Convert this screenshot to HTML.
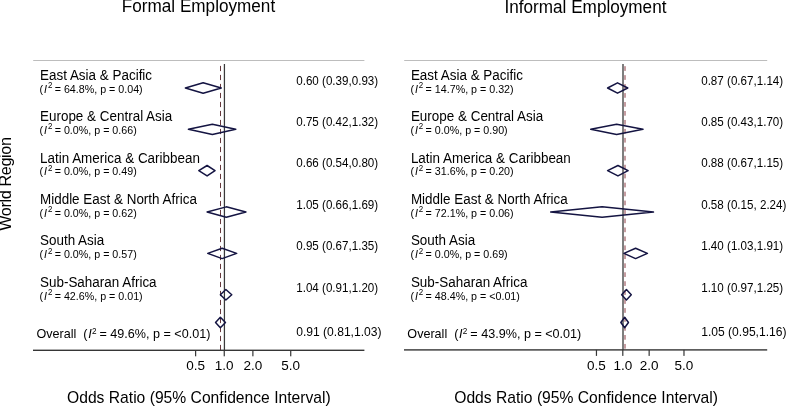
<!DOCTYPE html>
<html><head><meta charset="utf-8"><style>
html,body{margin:0;padding:0;background:#fff;width:786px;height:406px;overflow:hidden}
svg{display:block;will-change:transform}
text{font-family:"Liberation Sans",sans-serif;fill:#000}
</style></head><body>
<svg width="786" height="406" viewBox="0 0 786 406">
<rect width="786" height="406" fill="#fff"/>
<text x="121.8" y="12.2" font-size="17.15" transform="translate(0 12.2) scale(1 1.045) translate(0 -12.2)">Formal Employment</text>
<text x="504.5" y="12.5" font-size="17.15" transform="translate(0 12.5) scale(1 1.045) translate(0 -12.5)">Informal Employment</text>
<text transform="translate(11.2 230.85) rotate(-90) scale(1 1.045)" x="0" y="0" font-size="16.3" textLength="93.9" lengthAdjust="spacing">World Region</text>
<rect x="33.2" y="60" width="331.2" height="1" fill="#bdbdbd"/>
<rect x="223.80" y="64" width="1.25" height="286.30" fill="#3a3a3a"/>
<line x1="220.50" y1="65.9" x2="220.50" y2="350.30" stroke="#66393d" stroke-width="1" stroke-dasharray="5.2 3.8"/>
<rect x="33.0" y="349.60" width="331.4" height="1.4" fill="#363636"/>
<rect x="195.02" y="350.30" width="1.2" height="6" fill="#363636"/>
<text x="195.62" y="370" font-size="13.5" text-anchor="middle">0.5</text>
<rect x="223.65" y="350.30" width="1.2" height="6" fill="#363636"/>
<text x="224.25" y="370" font-size="13.5" text-anchor="middle">1.0</text>
<rect x="252.28" y="350.30" width="1.2" height="6" fill="#363636"/>
<text x="252.88" y="370" font-size="13.5" text-anchor="middle">2.0</text>
<rect x="290.13" y="350.30" width="1.2" height="6" fill="#363636"/>
<text x="290.73" y="370" font-size="13.5" text-anchor="middle">5.0</text>
<text x="40.0" y="80" font-size="13.45" transform="translate(0 80) scale(1 1.045) translate(0 -80)">East Asia &amp; Pacific</text>
<text y="93.00" font-size="10.7" transform="translate(0 93) scale(1 1.045) translate(0 -93)"><tspan x="39.60">(</tspan><tspan x="44.00" font-style="italic">I</tspan><tspan x="47.90" y="88" font-size="7.95">2</tspan><tspan x="54.70" y="93.00">= 64.8%, p = 0.04)</tspan></text>
<text x="296.2" y="85" font-size="11.62" transform="translate(0 85) scale(1 1.045) translate(0 -85)">0.60 (0.39,0.93)</text>
<path d="M185.36 88.00L203.15 82.80L221.25 88.00L203.15 93.20Z" fill="none" stroke="#141442" stroke-width="1.5" stroke-linejoin="round"/>
<text x="40.0" y="121" font-size="13.45" transform="translate(0 121) scale(1 1.045) translate(0 -121)">Europe &amp; Central Asia</text>
<text y="134.00" font-size="10.7" transform="translate(0 134) scale(1 1.045) translate(0 -134)"><tspan x="39.60">(</tspan><tspan x="44.00" font-style="italic">I</tspan><tspan x="47.90" y="129" font-size="7.95">2</tspan><tspan x="54.70" y="134.00">= 0.0%, p = 0.66)</tspan></text>
<text x="296.2" y="126" font-size="11.62" transform="translate(0 126) scale(1 1.045) translate(0 -126)">0.75 (0.42,1.32)</text>
<path d="M188.42 129.35L212.37 124.15L235.72 129.35L212.37 134.55Z" fill="none" stroke="#141442" stroke-width="1.5" stroke-linejoin="round"/>
<text x="40.0" y="163" font-size="13.45" transform="translate(0 163) scale(1 1.045) translate(0 -163)">Latin America &amp; Caribbean</text>
<text y="175.00" font-size="10.7" transform="translate(0 175) scale(1 1.045) translate(0 -175)"><tspan x="39.60">(</tspan><tspan x="44.00" font-style="italic">I</tspan><tspan x="47.90" y="171" font-size="7.95">2</tspan><tspan x="54.70" y="175.00">= 0.0%, p = 0.49)</tspan></text>
<text x="296.2" y="167" font-size="11.62" transform="translate(0 167) scale(1 1.045) translate(0 -167)">0.66 (0.54,0.80)</text>
<path d="M198.80 170.70L207.09 165.50L215.03 170.70L207.09 175.90Z" fill="none" stroke="#141442" stroke-width="1.5" stroke-linejoin="round"/>
<text x="40.0" y="204" font-size="13.45" transform="translate(0 204) scale(1 1.045) translate(0 -204)">Middle East &amp; North Africa</text>
<text y="217.00" font-size="10.7" transform="translate(0 217) scale(1 1.045) translate(0 -217)"><tspan x="39.60">(</tspan><tspan x="44.00" font-style="italic">I</tspan><tspan x="47.90" y="212" font-size="7.95">2</tspan><tspan x="54.70" y="217.00">= 0.0%, p = 0.62)</tspan></text>
<text x="296.2" y="209" font-size="11.62" transform="translate(0 209) scale(1 1.045) translate(0 -209)">1.05 (0.66,1.69)</text>
<path d="M207.09 212.05L226.27 206.85L245.92 212.05L226.27 217.25Z" fill="none" stroke="#141442" stroke-width="1.5" stroke-linejoin="round"/>
<text x="40.0" y="245" font-size="13.45" transform="translate(0 245) scale(1 1.045) translate(0 -245)">South Asia</text>
<text y="258.00" font-size="10.7" transform="translate(0 258) scale(1 1.045) translate(0 -258)"><tspan x="39.60">(</tspan><tspan x="44.00" font-style="italic">I</tspan><tspan x="47.90" y="254" font-size="7.95">2</tspan><tspan x="54.70" y="258.00">= 0.0%, p = 0.57)</tspan></text>
<text x="296.2" y="250" font-size="11.62" transform="translate(0 250) scale(1 1.045) translate(0 -250)">0.95 (0.67,1.35)</text>
<path d="M207.71 253.40L222.13 248.20L236.65 253.40L222.13 258.60Z" fill="none" stroke="#141442" stroke-width="1.5" stroke-linejoin="round"/>
<text x="40.0" y="287" font-size="13.45" transform="translate(0 287) scale(1 1.045) translate(0 -287)">Sub-Saharan Africa</text>
<text y="300.00" font-size="10.7" transform="translate(0 300) scale(1 1.045) translate(0 -300)"><tspan x="39.60">(</tspan><tspan x="44.00" font-style="italic">I</tspan><tspan x="47.90" y="295" font-size="7.95">2</tspan><tspan x="54.70" y="300.00">= 42.6%, p = 0.01)</tspan></text>
<text x="296.2" y="292" font-size="11.62" transform="translate(0 292) scale(1 1.045) translate(0 -292)">1.04 (0.91,1.20)</text>
<path d="M220.35 294.75L225.87 289.55L231.78 294.75L225.87 299.95Z" fill="none" stroke="#141442" stroke-width="1.5" stroke-linejoin="round"/>
<text y="337.7" font-size="12.6" transform="translate(0 337.7) scale(1 1.045) translate(0 -337.7)"><tspan x="36.45">Overall</tspan><tspan x="83.35">(</tspan><tspan x="88.15" font-style="italic">I</tspan><tspan x="91.95" y="333.70" font-size="8.2">2</tspan><tspan x="99.45" y="337.7">= 49.6%, p = &lt;0.01)</tspan></text>
<text x="296.2" y="335.8" font-size="12.1" transform="translate(0 335.8) scale(1 1.045) translate(0 -335.8)">0.91 (0.81,1.03)</text>
<path d="M215.55 322.50L220.35 317.30L225.47 322.50L220.35 327.70Z" fill="none" stroke="#141442" stroke-width="1.5" stroke-linejoin="round"/>
<rect x="404.2" y="60" width="363.00000000000006" height="1" fill="#bdbdbd"/>
<rect x="622.35" y="64" width="1.3" height="285.90" fill="#3a3a3a"/>
<line x1="625.00" y1="66.2" x2="625.00" y2="349.90" stroke="#8c3d44" stroke-width="1" stroke-dasharray="4.7 4.26"/>
<rect x="404.0" y="349.20" width="363.20000000000005" height="1.4" fill="#363636"/>
<rect x="595.85" y="349.90" width="1.2" height="6" fill="#363636"/>
<text x="596.45" y="370" font-size="13.5" text-anchor="middle">0.5</text>
<rect x="622.20" y="349.90" width="1.2" height="6" fill="#363636"/>
<text x="622.80" y="370" font-size="13.5" text-anchor="middle">1.0</text>
<rect x="648.55" y="349.90" width="1.2" height="6" fill="#363636"/>
<text x="649.15" y="370" font-size="13.5" text-anchor="middle">2.0</text>
<rect x="683.38" y="349.90" width="1.2" height="6" fill="#363636"/>
<text x="683.98" y="370" font-size="13.5" text-anchor="middle">5.0</text>
<text x="410.9" y="80" font-size="13.45" transform="translate(0 80) scale(1 1.045) translate(0 -80)">East Asia &amp; Pacific</text>
<text y="93.00" font-size="10.7" transform="translate(0 93) scale(1 1.045) translate(0 -93)"><tspan x="410.50">(</tspan><tspan x="414.90" font-style="italic">I</tspan><tspan x="418.80" y="88" font-size="7.95">2</tspan><tspan x="425.60" y="93.00">= 14.7%, p = 0.32)</tspan></text>
<text x="701.2" y="85" font-size="11.62" transform="translate(0 85) scale(1 1.045) translate(0 -85)">0.87 (0.67,1.14)</text>
<path d="M607.58 88.00L617.51 82.80L627.78 88.00L617.51 93.20Z" fill="none" stroke="#141442" stroke-width="1.5" stroke-linejoin="round"/>
<text x="410.9" y="121" font-size="13.45" transform="translate(0 121) scale(1 1.045) translate(0 -121)">Europe &amp; Central Asia</text>
<text y="134.00" font-size="10.7" transform="translate(0 134) scale(1 1.045) translate(0 -134)"><tspan x="410.50">(</tspan><tspan x="414.90" font-style="italic">I</tspan><tspan x="418.80" y="129" font-size="7.95">2</tspan><tspan x="425.60" y="134.00">= 0.0%, p = 0.90)</tspan></text>
<text x="701.2" y="126" font-size="11.62" transform="translate(0 126) scale(1 1.045) translate(0 -126)">0.85 (0.43,1.70)</text>
<path d="M590.72 129.35L616.62 124.15L642.97 129.35L616.62 134.55Z" fill="none" stroke="#141442" stroke-width="1.5" stroke-linejoin="round"/>
<text x="410.9" y="163" font-size="13.45" transform="translate(0 163) scale(1 1.045) translate(0 -163)">Latin America &amp; Caribbean</text>
<text y="175.00" font-size="10.7" transform="translate(0 175) scale(1 1.045) translate(0 -175)"><tspan x="410.50">(</tspan><tspan x="414.90" font-style="italic">I</tspan><tspan x="418.80" y="171" font-size="7.95">2</tspan><tspan x="425.60" y="175.00">= 31.6%, p = 0.20)</tspan></text>
<text x="701.2" y="167" font-size="11.62" transform="translate(0 167) scale(1 1.045) translate(0 -167)">0.88 (0.67,1.15)</text>
<path d="M607.58 170.70L617.94 165.50L628.11 170.70L617.94 175.90Z" fill="none" stroke="#141442" stroke-width="1.5" stroke-linejoin="round"/>
<text x="410.9" y="204" font-size="13.45" transform="translate(0 204) scale(1 1.045) translate(0 -204)">Middle East &amp; North Africa</text>
<text y="217.00" font-size="10.7" transform="translate(0 217) scale(1 1.045) translate(0 -217)"><tspan x="410.50">(</tspan><tspan x="414.90" font-style="italic">I</tspan><tspan x="418.80" y="212" font-size="7.95">2</tspan><tspan x="425.60" y="217.00">= 72.1%, p = 0.06)</tspan></text>
<text x="701.2" y="209" font-size="11.62" transform="translate(0 209) scale(1 1.045) translate(0 -209)">0.58 (0.15, 2.24)</text>
<path d="M550.68 212.05L602.09 206.85L653.46 212.05L602.09 217.25Z" fill="none" stroke="#141442" stroke-width="1.5" stroke-linejoin="round"/>
<text x="410.9" y="245" font-size="13.45" transform="translate(0 245) scale(1 1.045) translate(0 -245)">South Asia</text>
<text y="258.00" font-size="10.7" transform="translate(0 258) scale(1 1.045) translate(0 -258)"><tspan x="410.50">(</tspan><tspan x="414.90" font-style="italic">I</tspan><tspan x="418.80" y="254" font-size="7.95">2</tspan><tspan x="425.60" y="258.00">= 0.0%, p = 0.69)</tspan></text>
<text x="701.2" y="250" font-size="11.62" transform="translate(0 250) scale(1 1.045) translate(0 -250)">1.40 (1.03,1.91)</text>
<path d="M623.92 253.40L635.59 248.20L647.40 253.40L635.59 258.60Z" fill="none" stroke="#141442" stroke-width="1.5" stroke-linejoin="round"/>
<text x="410.9" y="287" font-size="13.45" transform="translate(0 287) scale(1 1.045) translate(0 -287)">Sub-Saharan Africa</text>
<text y="300.00" font-size="10.7" transform="translate(0 300) scale(1 1.045) translate(0 -300)"><tspan x="410.50">(</tspan><tspan x="414.90" font-style="italic">I</tspan><tspan x="418.80" y="295" font-size="7.95">2</tspan><tspan x="425.60" y="300.00">= 48.4%, p = &lt;0.01)</tspan></text>
<text x="701.2" y="292" font-size="11.62" transform="translate(0 292) scale(1 1.045) translate(0 -292)">1.10 (0.97,1.25)</text>
<path d="M621.64 294.75L626.42 289.55L631.28 294.75L626.42 299.95Z" fill="none" stroke="#141442" stroke-width="1.5" stroke-linejoin="round"/>
<text y="337.7" font-size="12.6" transform="translate(0 337.7) scale(1 1.045) translate(0 -337.7)"><tspan x="407.35">Overall</tspan><tspan x="454.25">(</tspan><tspan x="459.05" font-style="italic">I</tspan><tspan x="462.85" y="333.70" font-size="8.2">2</tspan><tspan x="470.35" y="337.7">= 43.9%, p = &lt;0.01)</tspan></text>
<text x="701.2" y="335.8" font-size="12.1" transform="translate(0 335.8) scale(1 1.045) translate(0 -335.8)">1.05 (0.95,1.16)</text>
<path d="M620.85 322.50L624.65 317.30L628.44 322.50L624.65 327.70Z" fill="none" stroke="#141442" stroke-width="1.5" stroke-linejoin="round"/>
<text x="67" y="402.8" font-size="15.67" transform="translate(0 402.8) scale(1 1.045) translate(0 -402.8)">Odds Ratio (95% Confidence Interval)</text>
<text x="454.2" y="402.8" font-size="15.67" transform="translate(0 402.8) scale(1 1.045) translate(0 -402.8)">Odds Ratio (95% Confidence Interval)</text>
</svg>
</body></html>
